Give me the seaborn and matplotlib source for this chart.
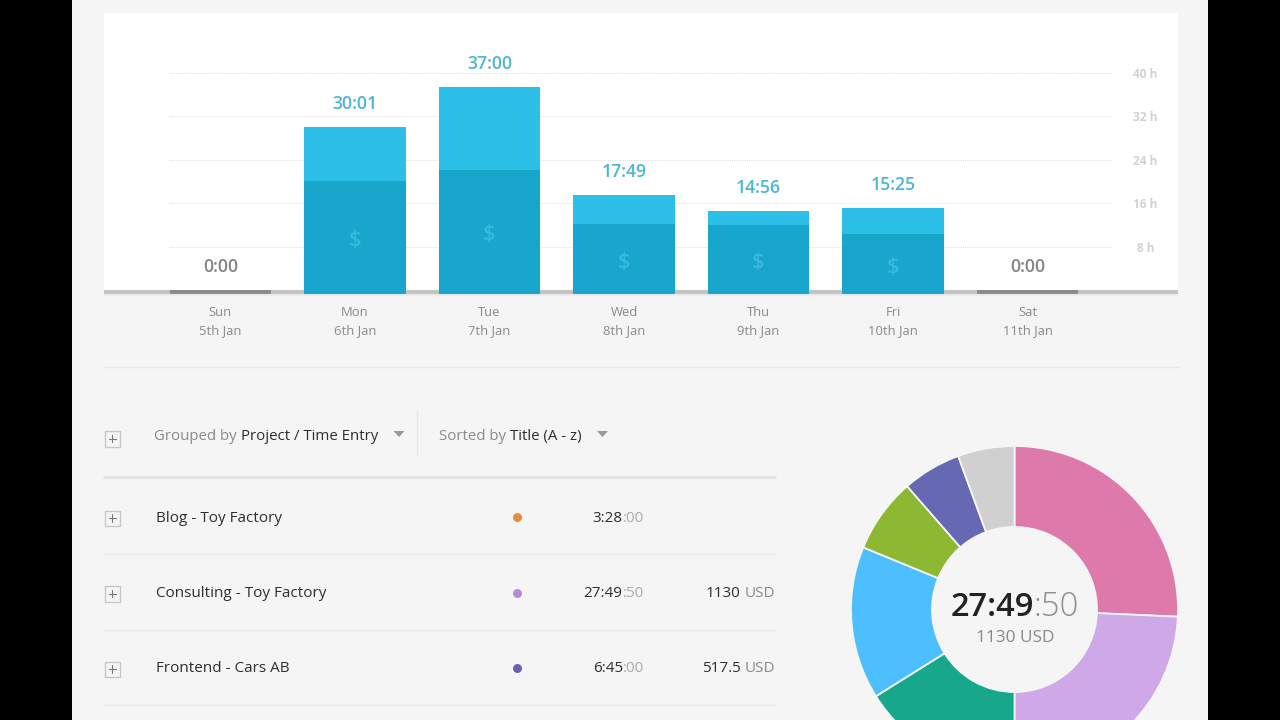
import matplotlib
matplotlib.use("Agg")
import matplotlib.pyplot as plt
import matplotlib.patches as mpatches
import seaborn as sns

DAYS = ["Sun", "Mon", "Tue", "Wed", "Thu", "Fri", "Sat"]
DATES = ["5th Jan", "6th Jan", "7th Jan", "8th Jan", "9th Jan", "10th Jan", "11th Jan"]
TOTAL_HOURS = [0, 30.07, 37.4, 17.6, 14.6, 15.2, 0]
BILLABLE_HOURS = [0, 20.05, 22.15, 12.15, 12.05, 10.3, 0]
BAR_LABELS = ["0:00", "30:01", "37:00", "17:49", "14:56", "15:25", "0:00"]
Y_TICKS = [8, 16, 24, 32, 40]

PROJECTS = ["Blog - Toy Factory", "Consulting - Toy Factory", "Frontend - Cars AB"]
PROJECT_TIMES = ["3:28", "27:49", "6:45"]
PROJECT_SECONDS = [":00", ":50", ":00"]
PROJECT_AMOUNTS = ["", "1130", "517.5"]
PROJECT_COLORS = ["#E88A3C", "#B98AD8", "#6A5FB0"]

SHARES = [25.7, 24.3, 16.1, 15.1, 7.4, 5.8, 5.6]
SHARE_COLORS = ["#DE7AAB", "#CFA8E8", "#17A88B", "#4DBFFF", "#8CB832", "#6668B4", "#D0D0D0"]

PAGE = "#F5F5F5"
LIGHT_BLUE = "#2CC0E8"
DARK_BLUE = "#18A6CC"
DARK_TEXT = "#2E2E2E"
GREY_TEXT = "#8A8A8A"
W, H = 1280, 720

sns.set_theme(style="white")
plt.rcParams["font.family"] = ["Open Sans", "DejaVu Sans"]

fig = plt.figure(figsize=(12.8, 7.2), dpi=100, facecolor="black")


def px_axes(left, top, right, bottom):
    return fig.add_axes([left / W, 1 - bottom / H, (right - left) / W, (bottom - top) / H])


# Page background and list furniture, in pixel coordinates
page = fig.add_axes([0, 0, 1, 1], zorder=0)
page.set_xlim(0, W)
page.set_ylim(H, 0)
page.axis("off")
page.add_patch(mpatches.Rectangle((72, 0), 1136, H, color=PAGE, lw=0))
page.add_patch(mpatches.Rectangle((104, 294), 1074, 2, color="#EBEBEB", lw=0))
page.plot([104, 1178], [366.5, 366.5], color="#E8E8E8", lw=1)
page.plot([417, 417], [410, 456], color="#E8E8E8", lw=1)
page.plot([104, 775], [477, 477], color="#E2E2E2", lw=2)
for y in [553.5, 629.5, 705]:
    page.plot([104, 775], [y, y], color="#E8E8E8", lw=1)


def plus_box(y):
    page.add_patch(mpatches.Rectangle((104.5, y - 7.5), 15.5, 15.5, fc=PAGE, ec="#C8C8C8", lw=1))
    page.plot([108.5, 116], [y, y], color="#777777", lw=0.8)
    page.plot([112.25, 112.25], [y - 3.75, y + 3.75], color="#777777", lw=0.8)


def text_run(x, y, runs, size):
    # runs are (string, colour), laid out left to right from x
    renderer = fig.canvas.get_renderer()
    for s, color in runs:
        t = page.text(x, y, s, color=color, fontsize=size, ha="left", va="baseline")
        x += t.get_window_extent(renderer).width
    return x


def text_run_right(x, y, dark, light, size, gap=0):
    renderer = fig.canvas.get_renderer()
    t = page.text(x, y, light[0], color=light[1], fontsize=size, ha="right", va="baseline")
    width = t.get_window_extent(renderer).width
    page.text(x - width - gap, y, dark, color=DARK_TEXT, fontsize=size, ha="right", va="baseline")


plus_box(438.5)
text_run(154.5, 440, [("Grouped by ", GREY_TEXT), ("Project / Time Entry", DARK_TEXT)], 10.85)
text_run(439, 440, [("Sorted by ", GREY_TEXT), ("Title (A - z)", DARK_TEXT)], 10.85)
for tx in [399, 602.5]:
    page.add_patch(mpatches.Polygon([(tx - 5.5, 431), (tx + 5.5, 431), (tx, 437)], color="#999999", lw=0))

row_y = [521.5, 597, 672.5]
for y, name, hhmm, secs, amount, color in zip(row_y, PROJECTS, PROJECT_TIMES, PROJECT_SECONDS,
                                              PROJECT_AMOUNTS, PROJECT_COLORS):
    plus_box(y - 3.5)
    page.text(155.5, y, name, color=DARK_TEXT, fontsize=11, va="baseline")
    page.scatter([516.5], [y - 4.5], s=42, color=color, lw=0)
    text_run_right(644, y, hhmm, (secs, "#ABABAB"), 11)
    if amount:
        text_run_right(775, y, amount, ("USD", GREY_TEXT), 11, gap=4)

# Weekly bars
ax = px_axes(104, 13, 1178, 294)
ax.set_zorder(1)
ax.set_facecolor("white")
sns.barplot(x=DAYS, y=TOTAL_HOURS, color=LIGHT_BLUE, saturation=1, width=0.755, ax=ax)
sns.barplot(x=DAYS, y=BILLABLE_HOURS, color=DARK_BLUE, saturation=1, width=0.755, ax=ax)

BASE = -0.644
for bar in list(ax.patches):
    h = bar.get_height()
    bar.set_y(BASE)
    bar.set_height(h - BASE)
    bar.set_zorder(3)
    bar.set_linewidth(0)
    if h == 0:
        bar.set_facecolor("#8C8C8C")

ax.axhspan(BASE, 0, color="#C4C4C4", lw=0, zorder=2)
ax.hlines(Y_TICKS, -0.385, 6.62, color="#DCDCDC", lw=0.7, linestyles=(0, (1, 1.2)), zorder=1)

for i, (total, billable, label) in enumerate(zip(TOTAL_HOURS, BILLABLE_HOURS, BAR_LABELS)):
    color = "#4DB5D5" if total else "#848484"
    ax.annotate(label, (i, total), xytext=(0, 16.6), textcoords="offset points",
                ha="center", va="center", color=color, fontsize=12.7, fontweight="semibold", zorder=4)
    if billable:
        ax.text(i, billable / 2 - 0.85, r"\$", color="#35B9DE", fontsize=16,
                fontweight="semibold", ha="center", va="center", zorder=4)

ax.set_xlim(-0.865, 7.117)
ax.set_ylim(BASE, 51.03)
ax.set_xticks(range(len(DAYS)), [f"{d}\n{j}" for d, j in zip(DAYS, DATES)])
ax.tick_params(axis="x", length=0, pad=8.7, labelsize=9.4, labelcolor=GREY_TEXT)
ax.yaxis.tick_right()
ax.set_yticks(Y_TICKS, [f"{v} h" for v in Y_TICKS])
ax.tick_params(axis="y", length=0, pad=-23.5, labelsize=8.6, labelcolor="#D2D2D2")
for lab in ax.get_yticklabels():
    lab.set_ha("center")
    lab.set_fontweight("bold")
for lab in ax.get_xticklabels():
    lab.set_linespacing(1.5)
ax.set_xlabel("")
ax.set_ylabel("")
sns.despine(ax=ax, left=True, bottom=True)

# Donut, runs off the bottom of the frame
cx, cy, half = 1014.5, 609.5, 170
pie_ax = px_axes(cx - half, cy - half, cx + half, cy + half)
pie_ax.set_zorder(1)
pie_ax.pie(SHARES, colors=SHARE_COLORS, startangle=90, counterclock=False, radius=163.5 / half,
           wedgeprops={"width": 81 / half, "edgecolor": "#F6F6F6", "linewidth": 1.3})
pie_ax.set_xlim(-1, 1)
pie_ax.set_ylim(-1, 1)

center = fig.add_axes([0, 0, 1, 1], zorder=2)
center.set_xlim(0, W)
center.set_ylim(H, 0)
center.axis("off")
center.text(1033.5, 607, "27:49", color="#222222", fontsize=23.5, fontweight="semibold", ha="right", va="center")
center.text(1033.5, 607, ":50", color="#909090", fontsize=23.5, fontweight="light", ha="left", va="center")
center.text(1015, 638, "1130 USD", color=GREY_TEXT, fontsize=12.4, ha="center", va="center")

fig.savefig("out.png", dpi=100, facecolor=fig.get_facecolor())
